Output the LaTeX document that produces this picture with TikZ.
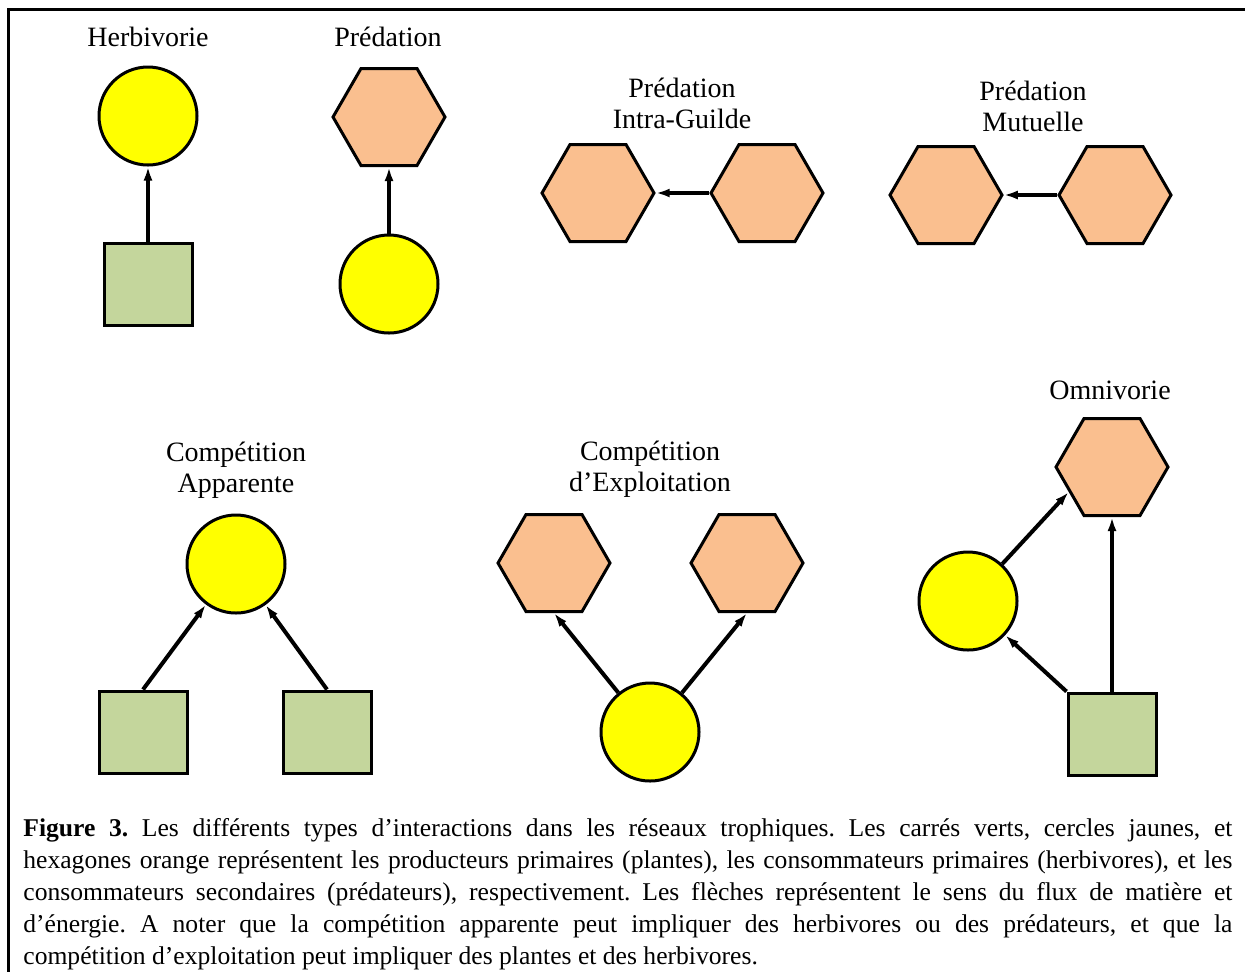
\documentclass[tikz,border=0pt]{standalone}
\usepackage{fontspec}
\setmainfont{Liberation Serif}
\usetikzlibrary{shapes.geometric,arrows.meta}
\definecolor{plante}{rgb}{0.77,0.84,0.61}
\definecolor{herbi}{rgb}{1,1,0}
\definecolor{preda}{rgb}{0.98,0.75,0.56}

\begin{document}
\begin{tikzpicture}[x=0.5pt,y=-0.5pt,line join=miter,
	carre/.style={draw,line width=1.5pt,fill=plante,minimum width=44pt,minimum height=41pt,inner sep=0pt},
	cercle/.style={draw,circle,line width=1.5pt,fill=herbi,minimum size=49pt,inner sep=0pt},
	hexa/.style={draw,regular polygon,regular polygon sides=6,line width=1.5pt,fill=preda,minimum size=56pt,inner sep=0pt},
	titre/.style={font=\fontsize{14}{15.5}\selectfont,align=center,anchor=base,inner sep=0pt},
	fleche/.style={-{Latex[length=7pt,width=4.5pt]},line width=2pt}]
	\useasboundingbox (0,0) rectangle (1245,971);
	\draw [line width=1.5pt] (1260,9) -- (8,9) -- (8,990);

	% herbivorie
	\node[titre] (tHerb) at (148,46) {Herbivorie};
	\node[cercle] (hbC) at (148,116) {};
	\node[carre] (hbP) at (148,284) {};
	\draw[fleche] (hbP) -- (hbC);

	% predation
	\node[titre] (tPred) at (388,46) {Prédation};
	\node[hexa] (prH) at (389,117) {};
	\node[cercle] (prC) at (389,284) {};
	\draw[fleche] (prC) -- (prH);

	% intra-guilde
	\node[titre] (tIG) at (682,128) {Prédation\\Intra-Guilde};
	\node[hexa] (igA) at (598,193) {};
	\node[hexa] (igB) at (767,193) {};
	\draw[fleche] (igB) -- (igA);

	% mutuelle
	\node[titre] (tMut) at (1033,131) {Prédation\\Mutuelle};
	\node[hexa] (muA) at (946,195) {};
	\node[hexa] (muB) at (1115,195) {};
	\draw[fleche] (muB) -- (muA);

	% competition apparente
	\node[titre] (tApp) at (236,492) {Compétition\\Apparente};
	\node[cercle] (apC) at (236,564) {};
	\node[carre] (apP1) at (143,732) {};
	\node[carre] (apP2) at (327,732) {};
	\draw[fleche] (apP1.north) -- (apC);
	\draw[fleche] (apP2.north) -- (apC);

	% competition d'exploitation
	\node[titre] (tExp) at (650,491) {Compétition\\d’Exploitation};
	\node[hexa] (exH1) at (554,563) {};
	\node[hexa] (exH2) at (747,563) {};
	\node[cercle] (exC) at (650,732) {};
	\draw[fleche] (exC) -- (exH1.south);
	\draw[fleche] (exC) -- (exH2.south);

	% omnivorie
	\node[titre] (tOmn) at (1110,399) {Omnivorie};
	\node[hexa] (omH) at (1112,467) {};
	\node[cercle] (omC) at (968,601) {};
	\node[carre] (omP) at (1112,734) {};
	\draw[fleche] (omP.north west) -- (omC);
	\draw[fleche] (omP) -- (omH);
	\draw[fleche] (omC) -- (omH.210);

	% legende
	\node[anchor=base west,inner sep=0pt,text width=604.5pt,align=justify,
		font=\fontsize{12.8}{16}\selectfont] (leg) at (23,836)
	{\frenchspacing\hyphenpenalty=10000\tolerance=10000\textbf{Figure 3.} Les différents types d’interactions dans les réseaux trophiques. Les carrés verts, cercles jaunes, et\linebreak
	hexagones orange représentent les producteurs primaires (plantes), les consommateurs primaires (herbivores), et les\linebreak
	consommateurs secondaires (prédateurs), respectivement. Les flèches représentent le sens du flux de matière et\linebreak
	d’énergie. A noter que la compétition apparente peut impliquer des herbivores ou des prédateurs, et que la\linebreak
	compétition d’exploitation peut impliquer des plantes et des herbivores.};
\end{tikzpicture}
\end{document}
